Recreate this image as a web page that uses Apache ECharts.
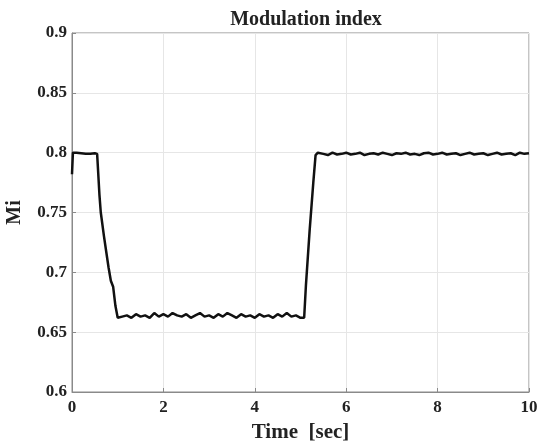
<!DOCTYPE html>
<html>
<head>
<meta charset="utf-8">
<script src="https://cdn.jsdelivr.net/npm/echarts@6/dist/echarts.min.js"></script>
<style>
  html, body { margin: 0; padding: 0; background: #fff; }
  #chart { width: 541px; height: 442px; }
</style>
</head>
<body>
<div id="chart"></div>
<script>
// modulation index vs time
const time = [
  0, 0.02, 0.05, 0.1, 0.2, 0.3, 0.4, 0.5, 0.55, 0.6, 0.63, 0.7, 0.75, 0.8, 0.85, 0.9, 0.95, 1.0,
  1.1, 1.2, 1.3, 1.4, 1.5, 1.6, 1.7, 1.8, 1.9, 2.0,
  2.1, 2.2, 2.3, 2.4, 2.5, 2.6, 2.7, 2.8, 2.9, 3.0,
  3.1, 3.2, 3.3, 3.4, 3.5, 3.6, 3.7, 3.8, 3.9, 4.0,
  4.1, 4.2, 4.3, 4.4, 4.5, 4.6, 4.7, 4.8, 4.9, 5.0,
  5.08, 5.12, 5.2, 5.28, 5.33, 5.38,
  5.5, 5.6, 5.7, 5.8, 5.9, 6.0,
  6.1, 6.2, 6.3, 6.4, 6.5, 6.6, 6.7, 6.8, 6.9, 7.0,
  7.1, 7.2, 7.3, 7.4, 7.5, 7.6, 7.7, 7.8, 7.9, 8.0,
  8.1, 8.2, 8.3, 8.4, 8.5, 8.6, 8.7, 8.8, 8.9, 9.0,
  9.1, 9.2, 9.3, 9.4, 9.5, 9.6, 9.7, 9.8, 9.9, 10.0
]
const mi = [
  0.782, 0.800, 0.800, 0.800, 0.7995, 0.799, 0.799, 0.7995, 0.799, 0.765, 0.750, 0.730, 0.717, 0.704, 0.693, 0.688, 0.672, 0.662,
  0.663, 0.664, 0.662, 0.665, 0.663, 0.664, 0.662, 0.666, 0.663, 0.665,
  0.663, 0.666, 0.664, 0.663, 0.665, 0.662, 0.664, 0.666, 0.663, 0.664,
  0.662, 0.665, 0.663, 0.666, 0.664, 0.662, 0.665, 0.663, 0.664, 0.662,
  0.665, 0.663, 0.664, 0.662, 0.665, 0.663, 0.666, 0.663, 0.664, 0.662,
  0.662, 0.690, 0.735, 0.775, 0.798, 0.800,
  0.799, 0.798, 0.800, 0.7985, 0.799, 0.800,
  0.7985, 0.799, 0.800, 0.798, 0.799, 0.7995, 0.7985, 0.800, 0.799, 0.798,
  0.7995, 0.799, 0.800, 0.7985, 0.799, 0.798, 0.7995, 0.800, 0.7985, 0.799,
  0.800, 0.7985, 0.799, 0.7995, 0.798, 0.799, 0.800, 0.7985, 0.799, 0.7995,
  0.798, 0.799, 0.800, 0.7985, 0.799, 0.7995, 0.798, 0.800, 0.799, 0.7995
]
const xTicks = [0, 2, 4, 6, 8, 10]
const yTicks = [0.6, 0.65, 0.7, 0.75, 0.8, 0.85, 0.9]

const points = time.map((t, i) => [t, mi[i]])
const font = 'Liberation Serif, Times New Roman, serif'
const tickLabel = { color: '#222', fontFamily: font, fontWeight: 'bold', fontSize: 17 }

const chart = echarts.init(document.getElementById('chart'))
chart.setOption({
  animation: false,
  title: {
    text: 'Modulation index',
    left: 301,
    top: 5,
    textAlign: 'center',
    textStyle: { color: '#222', fontFamily: font, fontWeight: 'bold', fontSize: 20 },
  },
  grid: {
    left: 72, right: 12, top: 33, bottom: 50,
    outerBoundsMode: 'none',
    containLabel: false,
    show: true, borderColor: '#8a8a8a', borderWidth: 1,
  },
  xAxis: {
    type: 'value',
    min: xTicks[0],
    max: xTicks[xTicks.length - 1],
    interval: 2,
    name: 'Time  [sec]',
    nameLocation: 'middle',
    nameGap: 30,
    nameTextStyle: { color: '#222', fontFamily: font, fontWeight: 'bold', fontSize: 21 },
    axisLine: { show: true, lineStyle: { color: '#8a8a8a' } },
    axisTick: { show: true, inside: true, length: 4, lineStyle: { color: '#8a8a8a' } },
    axisLabel: { ...tickLabel, margin: 7 },
    splitLine: { show: true, lineStyle: { color: '#e6e6e6' } },
  },
  yAxis: {
    type: 'value',
    min: yTicks[0],
    max: yTicks[yTicks.length - 1],
    interval: 0.05,
    name: 'Mi',
    nameLocation: 'middle',
    nameGap: 47,
    nameTextStyle: { color: '#222', fontFamily: font, fontWeight: 'bold', fontSize: 20 },
    axisLine: { show: true, lineStyle: { color: '#8a8a8a' } },
    axisTick: { show: true, inside: true, length: 4, lineStyle: { color: '#8a8a8a' } },
    axisLabel: { ...tickLabel, margin: 5, formatter: v => String(+v.toFixed(2)) },
    splitLine: { show: true, lineStyle: { color: '#e6e6e6' } },
  },
  series: [{
    type: 'line',
    data: points,
    showSymbol: false,
    lineStyle: { color: '#111', width: 2.5 },
  }],
})
</script>
</body>
</html>
